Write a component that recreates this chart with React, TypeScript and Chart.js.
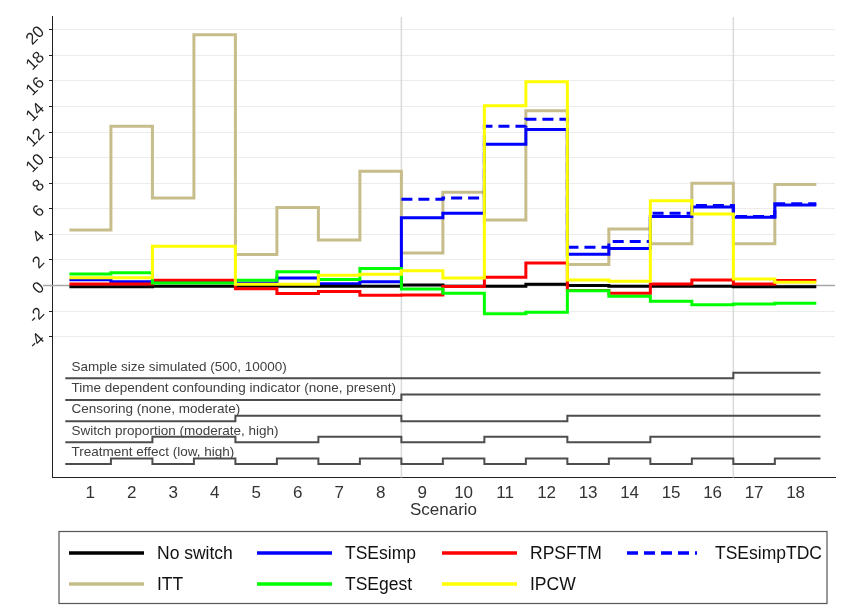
import React, { useEffect, useRef } from "react";
import { Chart, registerables } from "chart.js";

Chart.register(...registerables);

// ---- data ----
const scenarios = [1, 2, 3, 4, 5, 6, 7, 8, 9, 10, 11, 12, 13, 14, 15, 16, 17, 18];

const noSwitch = [-0.1, -0.1, -0.05, -0.05, -0.05, -0.05, -0.05, -0.05, 0.05, -0.05, -0.05, 0.1, 0.0, -0.05, -0.05, -0.05, -0.1, -0.1];
const tseSimp = [0.45, 0.3, 0.35, 0.35, 0.2, 0.6, 0.15, 0.3, 5.3, 5.65, 11.05, 12.2, 2.45, 2.9, 5.4, 6.15, 5.35, 6.3];
const rpsftm = [0.13, 0.13, 0.42, 0.42, -0.25, -0.62, -0.47, -0.75, -0.73, -0.08, 0.65, 1.77, -0.39, -0.6, 0.13, 0.44, 0.13, 0.39];
const tseSimpTDC = [null, null, null, null, null, null, null, null, 6.75, 6.85, 12.45, 13.0, 3.0, 3.45, 5.65, 6.25, 5.4, 6.4];
const itt = [4.35, 12.45, 6.85, 19.6, 2.42, 6.1, 3.57, 8.93, 2.55, 7.3, 5.13, 13.67, 1.64, 4.43, 3.26, 7.99, 3.26, 7.9];
const tseGest = [0.91, 1.0, 0.2, 0.2, 0.42, 1.09, 0.47, 1.33, -0.26, -0.6, -2.2, -2.08, -0.4, -0.83, -1.22, -1.5, -1.43, -1.38];
const ipcw = [0.62, 0.62, 3.07, 3.07, 0.1, 0.1, 0.8, 0.88, 1.15, 0.6, 14.06, 15.94, 0.44, 0.34, 6.64, 5.6, 0.52, 0.26];

// design factors (0 = first level, 1 = second level)
const sampleSize = [0, 0, 0, 0, 0, 0, 0, 0, 0, 0, 0, 0, 0, 0, 0, 0, 1, 1];
const tdConfounding = [0, 0, 0, 0, 0, 0, 0, 0, 1, 1, 1, 1, 1, 1, 1, 1, 1, 1];
const censoring = [0, 0, 0, 0, 1, 1, 1, 1, 0, 0, 0, 0, 1, 1, 1, 1, 1, 1];
const switchProportion = [0, 0, 1, 1, 0, 0, 1, 1, 0, 0, 1, 1, 0, 0, 1, 1, 1, 1];
const treatmentEffect = [0, 1, 0, 1, 0, 1, 0, 1, 0, 1, 0, 1, 0, 1, 0, 1, 0, 1];

const factorLabels = [
  "Sample size simulated (500, 10000)",
  "Time dependent confounding indicator (none, present)",
  "Censoring (none, moderate)",
  "Switch proportion (moderate, high)",
  "Treatment effect (low, high)",
];

const yTicks = [-4, -2, 0, 2, 4, 6, 8, 10, 12, 14, 16, 18, 20];
const xRefLines = [8.5, 16.5];

// ---- layout of the factor tracks (in y-axis units) ----
const trackBase = [-7.25, -8.95, -10.6, -12.25, -13.95];
const trackStep = 0.43;
const trackPad = 0.1;

const FONT = '"Liberation Sans", Arial, Helvetica, sans-serif';

type Pt = { x: number; y: number | null };

// Turn per-scenario values into a stair line: one flat run per scenario.
function stairs(values: (number | null)[], pad = 0): Pt[] {
  const pts: Pt[] = [];
  values.forEach((v, i) => {
    const s = scenarios[i];
    if (v === null) {
      pts.push({ x: s, y: null });
      return;
    }
    const left = s - 0.5 - (i === 0 ? pad : 0);
    const right = s + 0.5 + (i === values.length - 1 ? pad : 0);
    pts.push({ x: left, y: v }, { x: right, y: v });
  });
  return pts;
}

const methods = [
  { label: "No switch", values: noSwitch, color: "#000000", dash: [] as number[], order: 4 },
  { label: "TSEsimp", values: tseSimp, color: "#0000ff", dash: [] as number[], order: 5 },
  { label: "RPSFTM", values: rpsftm, color: "#ff0000", dash: [] as number[], order: 3 },
  { label: "TSEsimpTDC", values: tseSimpTDC, color: "#0000ff", dash: [11, 6], order: 6 },
  { label: "ITT", values: itt, color: "#c6bd8b", dash: [] as number[], order: 7 },
  { label: "TSEgest", values: tseGest, color: "#00ff00", dash: [] as number[], order: 2 },
  { label: "IPCW", values: ipcw, color: "#ffff00", dash: [] as number[], order: 1 },
];

const factors = [sampleSize, tdConfounding, censoring, switchProportion, treatmentEffect];

const decorPlugin = {
  id: "decor",
  beforeDatasetsDraw(chart: any) {
    const { ctx, chartArea } = chart;
    const xs = chart.scales.x;
    const ys = chart.scales.y;
    ctx.save();
    // vertical separators
    ctx.strokeStyle = "#dadada";
    ctx.lineWidth = 1.5;
    xRefLines.forEach((v) => {
      const px = xs.getPixelForValue(v);
      ctx.beginPath();
      ctx.moveTo(px, chartArea.top);
      ctx.lineTo(px, chartArea.bottom);
      ctx.stroke();
    });
    // zero reference line
    const y0 = ys.getPixelForValue(0);
    ctx.strokeStyle = "#a6a6a6";
    ctx.lineWidth = 1.5;
    ctx.beginPath();
    ctx.moveTo(chartArea.left - 9, y0);
    ctx.lineTo(chartArea.right, y0);
    ctx.stroke();
    // factor track captions
    ctx.fillStyle = "#404040";
    ctx.font = `13.5px ${FONT}`;
    ctx.textAlign = "left";
    ctx.textBaseline = "middle";
    factorLabels.forEach((t, k) => {
      const py = ys.getPixelForValue(trackBase[k]);
      ctx.fillText(t, xs.getPixelForValue(scenarios[0] - 0.5) + 2, py - 11.5);
    });
    ctx.restore();
  },
  afterDraw(chart: any) {
    const { ctx } = chart;
    ctx.save();
    // legend frame
    ctx.strokeStyle = "#555555";
    ctx.lineWidth = 1.2;
    ctx.strokeRect(59, 531.5, 768, 72);
    const colX = [69, 257, 442, 627];
    const rowY = [553, 584];
    ctx.font = `17.5px ${FONT}`;
    ctx.textAlign = "left";
    ctx.textBaseline = "middle";
    methods.forEach((m, i) => {
      const cx = colX[i % 4];
      const cy = rowY[Math.floor(i / 4)];
      ctx.strokeStyle = m.color;
      ctx.lineWidth = 3.5;
      ctx.setLineDash(m.dash);
      ctx.beginPath();
      ctx.moveTo(cx, cy);
      ctx.lineTo(cx + (m.dash.length ? 70 : 75), cy);
      ctx.stroke();
      ctx.setLineDash([]);
      ctx.fillStyle = "#111111";
      ctx.fillText(m.label, cx + 88, cy + 1);
    });
    ctx.restore();
  },
};

export default function App() {
  const ref = useRef<HTMLCanvasElement>(null);

  useEffect(() => {
    const canvas = ref.current;
    if (!canvas) return;

    const methodSets = methods.map((m) => ({
      label: m.label,
      data: stairs(m.values),
      borderColor: m.color,
      backgroundColor: m.color,
      borderWidth: 3,
      borderDash: m.dash,
      borderJoinStyle: "miter" as const,
      borderCapStyle: "butt" as const,
      pointRadius: 0,
      tension: 0,
      spanGaps: false,
      order: m.order,
    }));

    const factorSets = factors.map((f, k) => ({
      label: factorLabels[k],
      data: stairs(f.map((v) => trackBase[k] + v * trackStep), trackPad),
      borderColor: "#4d4d4d",
      backgroundColor: "#4d4d4d",
      borderWidth: 2,
      borderJoinStyle: "miter" as const,
      pointRadius: 0,
      tension: 0,
      order: 10,
    }));

    const chart = new Chart(canvas, {
      type: "line",
      data: { datasets: [...methodSets, ...factorSets] as any },
      options: {
        animation: false,
        responsive: false,
        devicePixelRatio: 1,
        layout: { padding: { top: 16, right: 6, left: 0, bottom: 0 } },
        plugins: {
          legend: { display: false },
          tooltip: { enabled: false },
          title: { display: false },
        },
        scales: {
          x: {
            type: "linear",
            min: 0.08,
            max: 18.95,
            afterBuildTicks: (s: any) => {
              s.ticks = scenarios.map((v) => ({ value: v }));
            },
            afterFit: (s: any) => {
              s.height = 134.5;
            },
            ticks: {
              font: { family: FONT, size: 17 },
              color: "#333333",
              padding: 6,
              autoSkip: false,
              maxRotation: 0,
              callback: (v: any) => String(v),
            },
            grid: { display: false, drawTicks: false },
            border: { display: true, color: "#222222", width: 1 },
            title: {
              display: true,
              text: "Scenario",
              font: { family: FONT, size: 17 },
              color: "#333333",
              padding: { top: 0, bottom: 91 },
            },
          },
          y: {
            type: "linear",
            min: -15,
            max: 21,
            afterBuildTicks: (s: any) => {
              s.ticks = yTicks.map((v) => ({ value: v }));
            },
            afterFit: (s: any) => {
              s.width = 52;
            },
            ticks: {
              font: { family: FONT, size: 16.5 },
              color: "#222222",
              padding: 7,
              minRotation: 45,
              maxRotation: 45,
              labelOffset: -0.5,
              callback: (v: any) => String(v),
            },
            grid: {
              color: (c: any) => (c.tick && c.tick.value === 0 ? "rgba(0,0,0,0)" : "#ececec"),
              tickColor: "#222222",
              tickLength: 3,
              lineWidth: 1,
            },
            border: { display: true, color: "#222222", width: 1 },
          },
        },
      },
      plugins: [decorPlugin],
    });

    return () => chart.destroy();
  }, []);

  return (
    <div style={{ position: "fixed", left: 0, top: 0, width: 841, height: 612, background: "#ffffff" }}>
      <canvas ref={ref} width={841} height={612} style={{ display: "block", width: 841, height: 612 }} />
    </div>
  );
}
